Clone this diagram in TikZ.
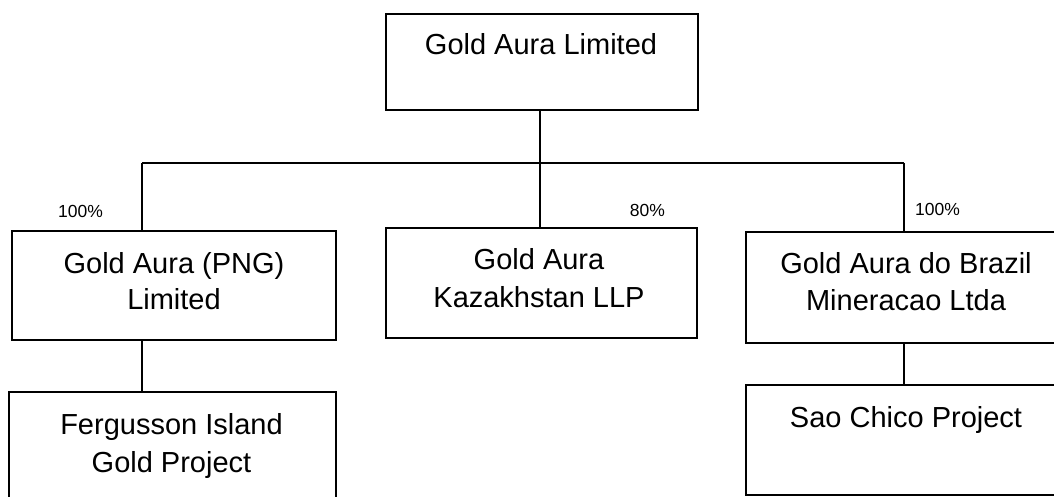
\documentclass[tikz,border=0pt]{standalone}
\usepackage{fontspec}
\setmainfont{Liberation Sans}
\begin{document}
\begin{tikzpicture}[x=1pt,y=-1pt,
  orgbox/.style={draw=black,line width=1.5pt,inner sep=0pt,anchor=center},
  wire/.style={draw=black,line width=1.3pt},
  big/.style={font=\fontsize{29}{35}\selectfont,anchor=base,inner sep=0pt},
  pct/.style={font=\fontsize{17.5}{21}\selectfont,anchor=base,inner sep=0pt}]
\useasboundingbox (0,0) rectangle (1054,497);
\clip (0,0) rectangle (1054,497);
% boxes
\node[orgbox,minimum width=312pt,minimum height=96pt] (top) at (542,62) {};
\node[orgbox,minimum width=324pt,minimum height=109pt] (png) at (174,285.5) {};
\node[orgbox,minimum width=311pt,minimum height=110pt] (kaz) at (541.5,283) {};
\node[orgbox,minimum width=316pt,minimum height=111pt] (bra) at (904,287.5) {};
\node[orgbox,minimum width=327pt,minimum height=110pt] (fer) at (172.5,447) {};
\node[orgbox,minimum width=316pt,minimum height=110pt] (sao) at (904,440) {};
% texts
\node[big] (tTop) at (541,55) {Gold Aura Limited};
\node[big] (tPng1) at (174,273) {Gold Aura (PNG)};
\node[big] (tPng2) at (174,309) {Limited};
\node[big] (tKaz1) at (539,269) {Gold Aura};
\node[big] (tKaz2) at (539,307) {Kazakhstan LLP};
\node[big] (tBra1) at (906,273) {Gold Aura do Brazil};
\node[big] (tBra2) at (906,310) {Mineracao Ltda};
\node[big] (tFer1) at (171.5,434) {Fergusson Island};
\node[big] (tFer2) at (171.5,472) {Gold Project};
\node[big] (tSao) at (906,427) {Sao Chico Project};
% percentages
\node[pct] (pPng) at (80.5,217) {100\%};
\node[pct] (pKaz) at (647.5,216) {80\%};
\node[pct] (pBra) at (937.5,215) {100\%};
% connectors
\coordinate (jL) at (142,163);
\coordinate (jM) at (540,163);
\coordinate (jR) at (904,163);
\draw[wire] (top.south -| jM) -- (jM) -- (kaz.north -| jM);
\draw[wire] (jL) -- (jR);
\draw[wire] (jL) -- (png.north -| jL);
\draw[wire] (jR) -- (bra.north -| jR);
\draw[wire] (png.south -| jL) -- (fer.north -| jL);
\draw[wire] (bra.south -| jR) -- (sao.north -| jR);
\end{tikzpicture}
\end{document}
